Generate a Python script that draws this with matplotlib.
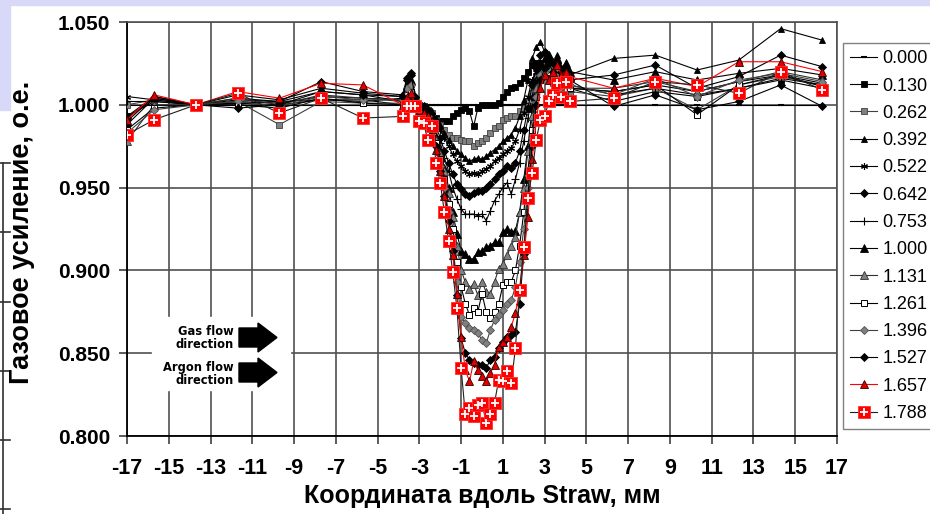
import matplotlib
matplotlib.use("Agg")
import matplotlib.pyplot as plt
from matplotlib.lines import Line2D
from matplotlib.patches import Rectangle, Polygon
from matplotlib.legend_handler import HandlerTuple

plt.rcParams['font.family'] = ['Liberation Sans', 'DejaVu Sans']
plt.rcParams['axes.unicode_minus'] = False

# positions along the straw, mm (coarse ends, 0.2 mm step across the dip)
x_left = [-17.0, -15.7, -13.7, -11.7, -9.7, -7.7, -5.7]
x_dip = [-3.8, -3.6, -3.4, -3.2, -3.0, -2.8, -2.6, -2.4, -2.2, -2.0, -1.8,
         -1.6, -1.4, -1.2, -1.0, -0.8, -0.6, -0.4, -0.2, 0.0, 0.2, 0.4,
         0.6, 0.8, 1.0, 1.2, 1.4, 1.6, 1.8, 2.0, 2.2, 2.4, 2.6, 2.8, 3.0,
         3.2, 3.4, 3.6, 3.8, 4.0, 4.2]
x_right = [6.3, 8.3, 10.3, 12.3, 14.3, 16.3]
x_mm = x_left + x_dip + x_right

labels = ["0.000", "0.130", "0.262", "0.392", "0.522", "0.642", "0.753",
          "1.000", "1.131", "1.261", "1.396", "1.527", "1.657", "1.788"]

# normalised gas gain, one list per curve: left | dip | right
g000 = [1.000, 1.000, 1.000, 1.000, 1.000, 1.000, 1.000,
        1.000, 1.000, 1.000, 1.000, 1.000, 1.000, 1.000, 1.000, 1.000, 1.000,
        1.000, 1.000, 1.000, 1.000, 1.000, 1.000, 1.000, 1.000, 1.000, 1.000,
        1.000, 1.000, 1.000, 1.000, 1.000, 1.000, 1.000, 1.000, 1.000, 1.000,
        1.000, 1.000, 1.000, 1.000, 1.000, 1.000, 1.000, 1.000, 1.000, 1.000,
        1.000, 1.000, 1.000, 1.000, 1.000, 1.000, 1.000]
g130 = [0.993, 1.002, 1.000, 1.001, 1.002, 1.003, 1.003,
        1.000, 1.003, 1.004, 1.001, 1.000, 0.999, 0.997, 0.994, 0.992, 0.990,
        0.990, 0.990, 0.993, 0.995, 0.997, 0.998, 0.996, 0.987, 0.998, 1.000,
        1.000, 1.000, 1.000, 1.001, 1.005, 1.008, 1.010, 1.011, 1.013, 1.016,
        1.020, 1.024, 1.025, 1.025, 1.022, 1.018, 1.015, 1.018, 1.012, 1.015,
        1.010,
        1.002, 1.008, 1.005, 1.010, 1.015, 1.010]
g262 = [1.000, 1.003, 1.000, 1.002, 0.988, 1.002, 1.001,
        1.001, 1.005, 1.006, 1.001, 1.000, 0.999, 0.997, 0.995, 0.991, 0.988,
        0.985, 0.982, 0.980, 0.980, 0.979, 0.978, 0.978, 0.975, 0.977, 0.978,
        0.980, 0.983, 0.986, 0.987, 0.991, 0.992, 0.993, 0.993, 0.996, 0.998,
        0.999, 1.007, 1.017, 1.022, 1.020, 1.016, 1.013, 1.016, 1.010, 1.012,
        1.008,
        1.005, 1.010, 0.997, 1.012, 1.017, 1.012]
g392 = [0.990, 1.005, 1.000, 1.003, 1.002, 1.008, 1.006,
        1.002, 1.010, 1.015, 1.003, 1.000, 0.999, 0.998, 0.996, 0.992, 0.988,
        0.983, 0.979, 0.975, 0.972, 0.970, 0.968, 0.966, 0.967, 0.968, 0.967,
        0.969, 0.971, 0.973, 0.975, 0.978, 0.980, 0.982, 0.986, 0.993, 1.003,
        1.015, 1.028, 1.035, 1.038, 1.032, 1.028, 1.025, 1.030, 1.022, 1.025,
        1.018,
        1.028, 1.030, 1.021, 1.027, 1.046, 1.039]
g522 = [1.005, 1.003, 1.000, 1.002, 1.001, 1.005, 1.004,
        1.003, 1.008, 1.010, 1.002, 1.000, 0.999, 0.997, 0.994, 0.990, 0.985,
        0.980, 0.975, 0.970, 0.966, 0.963, 0.960, 0.958, 0.959, 0.958, 0.960,
        0.961, 0.963, 0.966, 0.968, 0.970, 0.972, 0.974, 0.978, 0.985, 0.995,
        1.005, 1.015, 1.020, 1.022, 1.020, 1.018, 1.015, 1.017, 1.012, 1.015,
        1.010,
        1.008, 1.012, 1.008, 1.014, 1.018, 1.013]
g642 = [0.988, 1.004, 1.000, 1.004, 1.002, 1.014, 1.008,
        1.006, 1.016, 1.019, 1.005, 1.000, 0.999, 0.996, 0.992, 0.987, 0.980,
        0.972, 0.965, 0.958, 0.952, 0.949, 0.946, 0.945, 0.947, 0.948, 0.948,
        0.950, 0.952, 0.955, 0.958, 0.960, 0.963, 0.962, 0.965, 0.972, 0.985,
        0.998, 1.012, 1.022, 1.030, 1.032, 1.025, 1.022, 1.025, 1.018, 1.020,
        1.015,
        1.018, 1.024, 1.010, 1.017, 1.030, 1.023]
g753 = [1.002, 1.002, 1.000, 1.001, 1.000, 1.003, 1.002,
        1.004, 1.010, 1.012, 1.002, 0.999, 0.998, 0.995, 0.990, 0.984, 0.977,
        0.968, 0.960, 0.950, 0.943, 0.937, 0.934, 0.934, 0.934, 0.933, 0.934,
        0.930, 0.936, 0.942, 0.946, 0.950, 0.953, 0.946, 0.955, 0.965, 0.978,
        0.992, 1.005, 1.015, 1.022, 1.024, 1.022, 1.018, 1.020, 1.015, 1.018,
        1.012,
        1.006, 1.010, 1.006, 1.010, 1.016, 1.012]
g1000 = [0.993, 1.005, 1.000, 1.006, 1.003, 1.010, 1.007,
         1.005, 1.012, 1.015, 1.003, 0.999, 0.997, 0.993, 0.987, 0.980, 0.972,
         0.962, 0.950, 0.935, 0.922, 0.912, 0.910, 0.907, 0.907, 0.911, 0.912,
         0.914, 0.915, 0.917, 0.917, 0.923, 0.925, 0.923, 0.924, 0.935, 0.955,
         0.975, 0.998, 1.015, 1.025, 1.028, 1.030, 1.026, 1.028, 1.022, 1.025,
         1.020,
         1.015, 1.020, 1.015, 1.019, 1.022, 1.018]
g1131 = [0.978, 1.000, 1.000, 1.004, 1.000, 1.006, 1.004,
         1.002, 1.008, 1.010, 1.002, 0.998, 0.997, 0.993, 0.986, 0.979, 0.970,
         0.960, 0.947, 0.932, 0.915, 0.900, 0.893, 0.889, 0.892, 0.885, 0.893,
         0.887, 0.886, 0.893, 0.901, 0.904, 0.909, 0.915, 0.920, 0.935, 0.950,
         0.972, 0.993, 1.010, 1.018, 1.020, 1.022, 1.017, 1.020, 1.014, 1.016,
         1.010,
         1.010, 1.014, 1.008, 1.014, 1.020, 1.015]
g1261 = [0.985, 0.998, 1.000, 1.000, 0.998, 1.004, 1.001,
         1.000, 1.006, 1.008, 1.000, 0.998, 0.996, 0.992, 0.985, 0.977, 0.967,
         0.955, 0.940, 0.925, 0.905, 0.890, 0.880, 0.873, 0.877, 0.875, 0.886,
         0.875, 0.871, 0.875, 0.880, 0.891, 0.893, 0.893, 0.900, 0.915, 0.935,
         0.960, 0.985, 1.005, 1.015, 1.018, 1.020, 1.015, 1.018, 1.012, 1.015,
         1.010,
         1.008, 1.012, 0.994, 1.012, 1.018, 1.011]
g1396 = [0.983, 0.997, 1.000, 1.002, 0.999, 1.005, 1.003,
         1.003, 1.010, 1.012, 1.002, 0.998, 0.997, 0.993, 0.985, 0.975, 0.963,
         0.950, 0.935, 0.915, 0.893, 0.872, 0.868, 0.865, 0.864, 0.862, 0.858,
         0.856, 0.864, 0.870, 0.873, 0.876, 0.880, 0.882, 0.890, 0.905, 0.925,
         0.950, 0.980, 1.005, 1.018, 1.020, 1.022, 1.018, 1.020, 1.015, 1.018,
         1.012,
         1.006, 1.016, 1.005, 1.015, 1.019, 1.014]
g1527 = [0.992, 1.004, 1.000, 0.998, 1.000, 1.008, 1.006,
         1.005, 1.015, 1.018, 1.005, 1.000, 0.998, 0.995, 0.985, 0.975, 0.960,
         0.945, 0.930, 0.912, 0.885, 0.859, 0.850, 0.846, 0.844, 0.843, 0.843,
         0.841, 0.846, 0.848, 0.853, 0.857, 0.860, 0.861, 0.863, 0.880, 0.910,
         0.945, 0.975, 1.000, 1.015, 1.022, 1.025, 1.020, 1.025, 1.020, 1.022,
         1.015,
         0.999, 1.006, 0.997, 1.002, 1.012, 0.999]
g1657 = [0.991, 1.006, 1.000, 1.008, 1.004, 1.013, 1.012,
         1.000, 1.005, 1.007, 1.000, 0.997, 0.995, 0.993, 0.990, 0.973, 0.960,
         0.945, 0.925, 0.909, 0.886, 0.860, 0.840, 0.833, 0.845, 0.840, 0.836,
         0.833, 0.838, 0.843, 0.854, 0.857, 0.860, 0.866, 0.874, 0.888, 0.909,
         0.932, 0.967, 0.990, 1.010, 1.018, 1.015, 1.020, 1.024, 1.018, 1.020,
         1.017,
         1.010, 1.016, 1.011, 1.026, 1.026, 1.020]
g1788 = [0.982, 0.991, 1.000, 1.007, 0.995, 1.004, 0.992,
         0.993, 0.999, 0.999, 0.999, 0.990, 0.989, 0.979, 0.987, 0.965, 0.953,
         0.935, 0.918, 0.899, 0.877, 0.841, 0.813, 0.817, 0.812, 0.819, 0.820,
         0.808, 0.813, 0.820, 0.834, 0.833, 0.839, 0.832, 0.853, 0.888, 0.914,
         0.944, 0.959, 0.979, 0.991, 0.993, 1.002, 1.006, 1.013, 1.005, 1.014,
         1.002,
         1.004, 1.014, 1.012, 1.007, 1.020, 1.009]

gains = [g000, g130, g262, g392, g522, g642, g753,
         g1000, g1131, g1261, g1396, g1527, g1657, g1788]

GRAY = '#808080'
# marker, size, face, edge, line colour
styles = [
    dict(marker='_', ms=5, mfc='black', mec='black', mew=1.5, color='black'),
    dict(marker='s', ms=4.5, mfc='black', mec='black', mew=0.6, color='black'),
    dict(marker='s', ms=4.5, mfc=GRAY, mec='#404040', mew=0.6, color='#404040'),
    dict(marker='^', ms=5, mfc='black', mec='black', mew=0.6, color='black'),
    dict(marker=(6, 2, 0), ms=5, mfc='black', mec='black', mew=0.8, color='black'),
    dict(marker='D', ms=4, mfc='black', mec='black', mew=0.6, color='black'),
    dict(marker='+', ms=6, mfc='black', mec='black', mew=0.8, color='black'),
    dict(marker='^', ms=5.5, mfc='black', mec='black', mew=0.6, color='black'),
    dict(marker='^', ms=5.5, mfc=GRAY, mec='#303030', mew=0.6, color='#303030'),
    dict(marker='s', ms=5, mfc='white', mec='black', mew=0.7, color='black'),
    dict(marker='D', ms=4.5, mfc=GRAY, mec='#505050', mew=0.6, color='#404040'),
    dict(marker='D', ms=4.5, mfc='black', mec='black', mew=0.6, color='black'),
    dict(marker='^', ms=5.5, mfc='#e00000', mec='#300000', mew=0.6, color='red'),
    dict(marker='s', ms=8.5, mfc='#ff0000', mec='#ff3030', mew=0.6, color='#202020'),
]

fig = plt.figure(figsize=(9.3, 5.14), dpi=100)
W, H = 930.0, 514.0


def fp(x, y):
    # pixel position -> figure fraction
    return (x / W, 1 - y / H)


# slide background bits
fig.patches.append(Rectangle(fp(0, 5), 930 / W, 5 / H, transform=fig.transFigure,
                             color='#d8d8f8', zorder=0))
fig.patches.append(Rectangle(fp(0, 110), 10 / W, 110 / H, transform=fig.transFigure,
                             color='#d8d8f8', zorder=0))
bx = 3
fig.add_artist(Line2D([bx / W, bx / W], [1 - 163 / H, 0], color='#303030', lw=1.2,
                      transform=fig.transFigure))
for ty in [163, 232, 302, 371, 440, 509]:
    fig.add_artist(Line2D([0, 10 / W], [1 - ty / H, 1 - ty / H], color='#303030',
                          lw=1.2, transform=fig.transFigure))

ax = fig.add_axes([127 / W, 1 - 436 / H, 710 / W, 414 / H])
ax.set_xlim(-17, 17)
ax.set_ylim(0.8, 1.05)

for yv, lab, st in zip(gains, labels, styles):
    ax.plot(x_mm, yv, lw=0.8, zorder=3, **st)
# white crosses on the red squares
ax.plot(x_mm, g1788, ls='none', marker='+', ms=6, mec='white', mew=1.3, zorder=4)

ax.set_xticks(range(-17, 18, 2))
ax.set_yticks([0.80, 0.85, 0.90, 0.95, 1.00, 1.05])
ax.set_yticklabels(['%.3f' % v for v in [0.80, 0.85, 0.90, 0.95, 1.00, 1.05]])
ax.set_axisbelow(True)
ax.grid(True, color='#505050', lw=1.2)
ax.tick_params(axis='both', direction='out', length=6, width=1.2, color='#404040')
ax.tick_params(axis='y', labelsize=15, pad=6)
ax.tick_params(axis='x', pad=10)
for t in ax.get_yticklabels():
    t.set_fontweight('bold')
for t in ax.get_xticklabels():
    t.set_fontweight('bold')
    t.set_fontsize(15.5)
for side in ['left', 'bottom']:
    ax.spines[side].set_color('black')
    ax.spines[side].set_linewidth(1.3)
for side in ['top', 'right']:
    ax.spines[side].set_color('#505050')
    ax.spines[side].set_linewidth(1.2)

# flow direction notes
ax.add_patch(Rectangle((25 / 710, 46 / 414), 138 / 710, 73 / 414,
                       transform=ax.transAxes, color='white', zorder=1.5))


def arrow(yc):
    pts = [(239, yc - 9.5), (258, yc - 9.5), (258, yc - 14.5), (277, yc),
           (258, yc + 14.5), (258, yc + 9.5), (239, yc + 9.5)]
    fig.patches.append(Polygon([fp(*p) for p in pts], closed=True,
                               transform=fig.transFigure, color='black', zorder=5))


arrow(337.5)
arrow(372.5)
fig.text(*fp(234, 338), 'Gas flow\ndirection', ha='right', va='center',
         family='DejaVu Sans', fontsize=8.3, fontweight='bold', linespacing=1.0)
fig.text(*fp(234, 373.5), 'Argon flow\ndirection', ha='right', va='center',
         family='DejaVu Sans', fontsize=8.3, fontweight='bold', linespacing=1.0)

# axis titles
fig.text(*fp(22, 232), 'Газовое усиление, о.е.', rotation=90, ha='center',
         va='center', fontsize=19.5, fontweight='bold')
fig.text(*fp(482, 496), 'Координата вдоль Straw, мм', ha='center', va='center',
         fontsize=18, fontweight='bold')

# legend
handles = []
for st in styles[:-1]:
    handles.append(Line2D([], [], lw=0.8, **st))
sq = Line2D([], [], lw=0.8, **styles[-1])
cross = Line2D([], [], ls='none', marker='+', ms=6, mec='white', mew=1.3)
handles.append((sq, cross))
leg = ax.legend(handles, labels, loc='upper left',
                bbox_to_anchor=fp(843, 43), bbox_transform=fig.transFigure,
                handler_map={tuple: HandlerTuple(ndivide=1)},
                fontsize=13, frameon=True, fancybox=False, framealpha=1,
                edgecolor='#808080', borderpad=0.4, labelspacing=0.57,
                handlelength=1.5, handletextpad=0.3, borderaxespad=0)
leg.get_frame().set_linewidth(1.0)

fig.savefig('out.png', dpi=100)
